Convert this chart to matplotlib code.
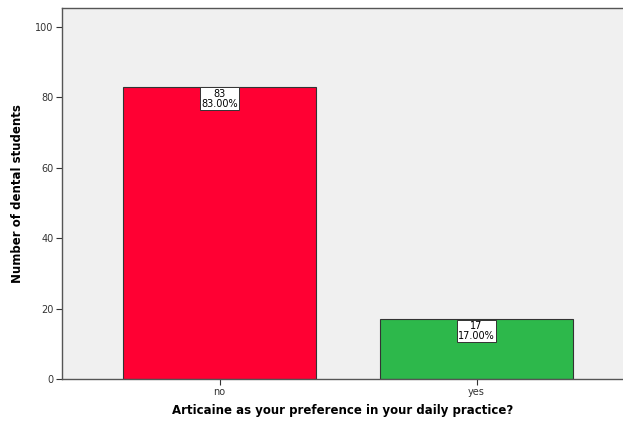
import matplotlib
matplotlib.use("Agg")
import matplotlib.pyplot as plt

categories = ["no", "yes"]
counts = [83, 17]
percents = ["83.00%", "17.00%"]
colors = ["#FF0033", "#2DB84B"]
yticks = [0, 20, 40, 60, 80, 100]

W, H = 623, 421
fig = plt.figure(figsize=(W/100, H/100), dpi=100)
ax = fig.add_axes([62/W, (H-379)/H, (W-62)/W, (379-8)/H])
ax.set_facecolor("#F0F0F0")

x = list(range(len(categories)))
ax.bar(x, counts, width=0.75, color=colors, edgecolor="#333333", linewidth=0.8, zorder=2)
for xi, c, p in zip(x, counts, percents):
    ax.annotate(f"{c}\n{p}", xy=(xi, c), xytext=(0, -1.5), textcoords="offset points",
                ha="center", va="top", fontsize=7, linespacing=0.95,
                bbox=dict(boxstyle="square,pad=0.15", fc="white", ec="#333333", lw=0.7), zorder=3)

ax.set_xlim(-0.613, 1.570)
ax.set_ylim(0, 105.4)
ax.set_yticks(yticks)
ax.set_xticks(x)
ax.set_xticklabels(categories)
ax.tick_params(axis="both", labelsize=7, colors="#333333", length=4, width=0.8, pad=2)
for s in ["top", "left", "bottom"]:
    ax.spines[s].set_color("#555555")
    ax.spines[s].set_linewidth(1.0)
ax.spines["right"].set_visible(False)

ax.set_ylabel("Number of dental students", fontsize=8.5, fontweight="bold", labelpad=8)
ax.set_xlabel("Articaine as your preference in your daily practice?", fontsize=8.5, fontweight="bold", labelpad=5)

fig.savefig("out.png", dpi=100)
